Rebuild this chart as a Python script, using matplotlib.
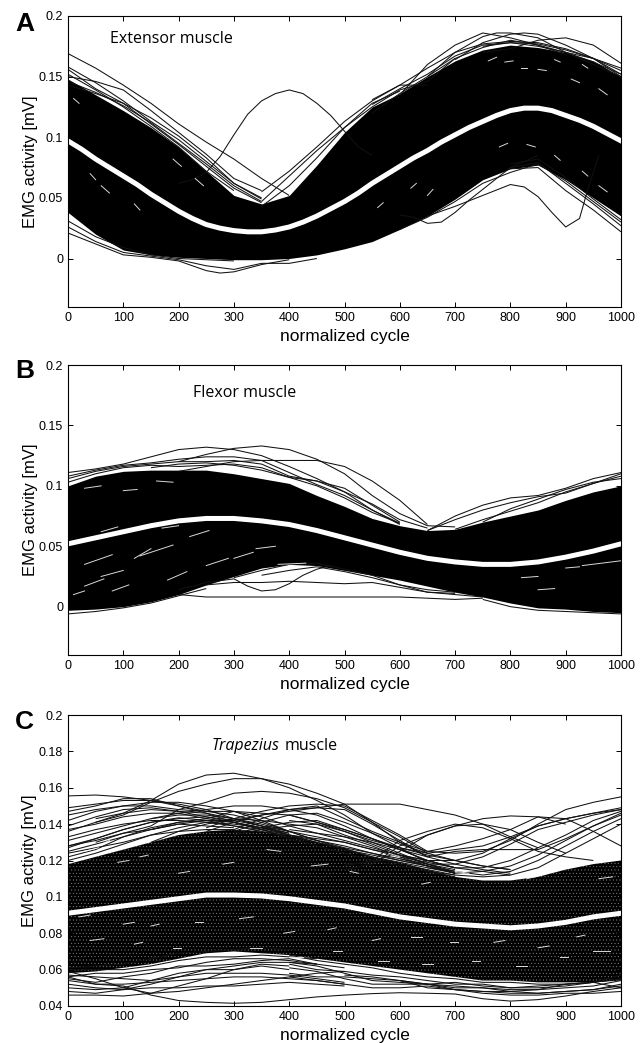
import matplotlib
matplotlib.use('Agg')
import matplotlib.pyplot as plt

plt.rcParams['font.family'] = ['Liberation Sans', 'DejaVu Sans']
plt.rcParams['hatch.linewidth'] = 0.3

W, H = 643, 1043

# common x grid of the band edges, finer grid for the mean curves
cycle = list(range(0, 1001, 50))
fine = list(range(0, 1001, 25))

# Panel A: mean curve, edges of the solid band, single curves outside it
a_mean = [.097, .090, .082, .075, .068, .061, .053, .046, .039, .033, .028, .025, .023,
          .022, .022, .0235, .026, .030, .035, .041, .047, .054, .062, .069, .076, .083,
          .089, .096, .102, .108, .113, .118, .122, .124, .124, .122, .118, .114, .109,
          .103, .097]
a_high = [.148, .135, .122, .108, .092, .072, .052, .045, .052, .077, .104,
          .125, .136, .150, .163, .172, .176, .174, .170, .163, .150]
a_low = [.038, .020, .007, .003, .001, .000, -.001, -.001, .000, .003, .008,
         .014, .024, .035, .049, .065, .074, .077, .065, .050, .035]
a_traces = [
    ([0, 50, 100, 150, 200, 250, 300, 350, 400], [.169, .157, .143, .128, .111, .096, .082, .066, .052]),
    ([0, 50, 100, 150, 200, 250, 300, 350], [.158, .145, .130, .113, .098, .080, .062, .050]),
    ([0, 50, 100, 150, 200, 250, 300, 350], [.156, .140, .128, .111, .094, .076, .058, .046]),
    ([0, 50, 100, 150, 200, 250, 300, 350], [.150, .146, .139, .122, .104, .086, .066, .056]),
    ([0, 50, 100, 150, 200, 250, 300], [.152, .139, .125, .109, .092, .072, .056]),
    (cycle[:8], [.146, .137, .126, .112, .095, .078, .060, .047]),
    (cycle[:8], [.143, .136, .128, .116, .101, .083, .062, .049]),
    ([200, 225, 250, 275, 300, 325, 350, 375, 400, 425, 450, 475, 500, 525, 550],
     [.062, .065, .071, .084, .102, .119, .130, .136, .139, .136, .128, .118, .105, .092, .085]),
    ([350, 400, 450, 500, 550, 600, 650, 700],
     [.047, .068, .089, .108, .125, .139, .146, .165]),
    ([350, 400, 450, 500, 550, 600, 650],
     [.055, .072, .092, .113, .130, .143, .143]),
    ([350, 400, 450, 500, 550, 600],
     [.043, .060, .083, .108, .128, .138]),
    ([600, 650, 700, 750, 800, 850, 900],
     [.135, .160, .176, .186, .182, .176, .168]),
    ([650, 700, 750, 775, 800, 850, 900, 950, 1000],
     [.150, .170, .183, .186, .186, .182, .170, .165, .152]),
    ([700, 750, 800, 825, 850, 900, 950, 1000],
     [.164, .178, .185, .186, .185, .176, .165, .150]),
    ([750, 800, 850, 900, 950, 1000],
     [.170, .173, .180, .182, .176, .161]),
    ([750, 800, 850, 900, 950, 1000],
     [.175, .178, .177, .172, .165, .157]),
    (cycle[11:], [.127, .140, .152, .167, .176, .178, .175, .170, .160, .150]),
    (cycle[11:], [.131, .143, .157, .170, .177, .179, .178, .173, .165, .155]),
    (cycle[11:], [.120, .136, .150, .165, .174, .180, .176, .170, .162, .152]),
    ([600, 625, 650, 675, 700, 725, 750, 800, 850],
     [.036, .034, .029, .030, .038, .048, .057, .075, .085]),
    ([650, 700, 750, 800, 825, 850, 875, 900, 925, 940, 960],
     [.035, .043, .052, .061, .059, .051, .038, .026, .033, .057, .085]),
    ([0, 50, 100, 150, 200, 250, 275, 300, 350, 400],
     [.021, .012, .003, .001, -.002, -.010, -.012, -.011, -.005, -.001]),
    ([0, 50, 100, 150, 200, 250, 300, 350, 400, 450],
     [.026, .014, .005, .002, -.001, -.006, -.009, -.004, -.004, .000]),
    ([0, 50, 100, 150, 200, 250, 300],
     [.031, .018, .009, .003, .000, -.001, -.002]),
    (cycle[12:], [.024, .034, .047, .062, .071, .078, .064, .047, .030]),
    ([800, 850, 900, 950, 1000], [.074, .075, .056, .040, .022]),
    ([800, 850, 900, 950, 1000], [.075, .079, .062, .045, .027]),
    ([800, 850, 900, 950, 1000], [.078, .082, .067, .049, .032]),
]
a_gap_x0 = [10, 40, 60, 120, 760, 790, 820, 850, 880, 910, 930, 960, 780, 830, 880, 930, 960, 190, 230, 560, 620, 650]
a_gap_x1 = [20, 50, 75, 130, 775, 805, 830, 865, 890, 925, 940, 975, 795, 845, 890, 940, 975, 205, 245, 570, 630, 660]
a_gap_y0 = [.132, .070, .060, .045, .163, .162, .157, .156, .164, .148, .160, .140, .092, .094, .085, .072, .060, .082, .066, .042, .058, .052]
a_gap_y1 = [.128, .065, .054, .040, .166, .163, .157, .155, .162, .145, .157, .135, .095, .092, .081, .068, .055, .076, .060, .046, .062, .057]

# Panel B
b_mean = [.052, .057, .062, .067, .071, .073, .073, .071, .068, .063, .057,
          .051, .045, .040, .037, .035, .035, .037, .041, .046, .052]
b_high = [.100, .108, .112, .113, .113, .113, .110, .106, .102, .092, .083,
          .073, .067, .063, .064, .070, .075, .080, .088, .095, .100]
b_low = [-.003, -.002, .000, .004, .010, .018, .025, .032, .035, .034, .030,
         .026, .022, .017, .012, .008, .003, -.001, -.002, -.004, -.005]
b_traces = [
    (cycle[:14], [.111, .114, .118, .124, .130, .132, .130, .125, .116, .106, .095, .085, .072, .065]),
    (cycle[4:15], [.120, .126, .131, .133, .130, .122, .110, .092, .077, .067, .066]),
    (cycle[:13], [.108, .113, .117, .119, .122, .124, .124, .121, .111, .101, .092, .080, .068]),
    (cycle[:13], [.106, .112, .116, .118, .120, .120, .121, .118, .108, .104, .098, .084, .070]),
    (cycle[:13], [.103, .110, .115, .117, .116, .117, .118, .115, .107, .100, .090, .078, .069]),
    (cycle[4:14], [.112, .116, .120, .121, .121, .121, .116, .104, .088, .068]),
    (cycle[3:13], [.115, .118, .119, .117, .113, .107, .104, .095, .080, .069]),
    (cycle[4:16], [.010, .008, .008, .008, .008, .008, .008, .008, .008, .007, .006, .007]),
    ([200, 250, 300, 325, 350, 375, 400, 425, 450, 475],
     [.014, .020, .023, .017, .013, .014, .019, .026, .031, .034]),
    ([250, 300, 350, 400, 450, 500, 550, 600, 650, 700],
     [.018, .020, .020, .021, .020, .019, .020, .016, .012, .011]),
    ([300, 350, 400, 450, 500, 550, 600, 650, 700, 750],
     [.024, .030, .035, .036, .031, .026, .018, .012, .010, .008]),
    ([350, 400, 450, 500, 550, 600, 650, 700],
     [.026, .030, .033, .029, .024, .018, .014, .012]),
    (cycle[13:], [.063, .075, .084, .090, .092, .098, .106, .111]),
    (cycle[13:], [.063, .072, .080, .086, .091, .094, .102, .110]),
    (cycle[14:], [.064, .072, .079, .086, .095, .102, .108]),
    (cycle[15:], [.070, .081, .089, .097, .103, .106]),
    (cycle[:6], [-.006, -.004, -.001, .003, .009, .015]),
    (cycle[15:], [.006, .000, -.003, -.004, -.005, -.006]),
]
b_gap_x0 = [30, 60, 120, 130, 220, 30, 80, 180, 250, 60, 170, 300, 340, 820, 900, 850, 930, 10, 380, 30, 100, 160]
b_gap_x1 = [80, 100, 150, 190, 255, 65, 110, 215, 290, 90, 200, 335, 375, 850, 925, 880, 1000, 30, 430, 60, 125, 190]
b_gap_y0 = [.035, .025, .040, .042, .058, .017, .013, .022, .034, .062, .065, .040, .048, .024, .032, .014, .034, .010, .035, .098, .096, .104]
b_gap_y1 = [.043, .030, .048, .051, .063, .023, .018, .029, .040, .066, .067, .045, .050, .025, .033, .015, .038, .013, .036, .100, .097, .103]

# Panel C
c_mean = [.091, .093, .095, .097, .099, .101, .101, .1005, .099, .097, .095,
          .092, .089, .087, .085, .084, .083, .084, .086, .089, .091]
c_high = [.118, .122, .126, .130, .134, .136, .137, .136, .134, .130, .127,
          .122, .119, .115, .111, .109, .109, .111, .115, .118, .120]
c_low = [.058, .059, .061, .063, .066, .069, .070, .069, .068, .066, .064,
         .062, .060, .058, .056, .054, .054, .053, .053, .053, .054]
c_traces = [
    (cycle[1:14], [.143, .146, .153, .162, .167, .168, .165, .160, .153, .145, .135, .127, .119]),
    (cycle[1:14], [.141, .145, .152, .158, .162, .165, .165, .162, .157, .151, .141, .130, .122]),
    (cycle[1:14], [.130, .135, .139, .148, .152, .157, .158, .157, .154, .149, .141, .133, .124]),
    (cycle[:18], [.128, .132, .137, .141, .1435, .142, .142, .145, .147, .149, .151, .151, .151, .148, .145, .140, .133, .127]),
    (cycle[:15], [.1555, .156, .155, .153, .150, .147, .145, .141, .136, .131, .126, .122, .118, .115, .112]),
    (cycle[:15], [.149, .151, .153, .153, .151, .148, .143, .139, .134, .130, .126, .122, .119, .116, .113]),
    (cycle[:15], [.147, .150, .154, .154, .150, .146, .141, .137, .132, .128, .124, .120, .117, .114, .111]),
    (cycle[:15], [.145, .148, .150, .152, .152, .150, .147, .142, .136, .131, .127, .124, .121, .118, .115]),
    (cycle[:15], [.142, .147, .150, .150, .148, .147, .147, .144, .139, .135, .131, .127, .123, .118, .114]),
    (cycle[:15], [.139, .144, .148, .149, .147, .146, .143, .140, .136, .133, .130, .126, .122, .119, .116]),
    (cycle[:15], [.137, .140, .144, .146, .146, .143, .141, .137, .134, .131, .128, .124, .120, .117, .113]),
    (cycle[:15], [.133, .137, .140, .142, .142, .141, .139, .136, .133, .130, .126, .123, .120, .117, .113]),
    (cycle[:9], [.136, .141, .146, .148, .147, .144, .141, .138, .134]),
    (cycle[:9], [.131, .135, .139, .143, .145, .145, .143, .139, .135]),
    (cycle[:9], [.127, .132, .137, .141, .143, .144, .142, .139, .136]),
    (cycle[:9], [.122, .126, .133, .137, .140, .142, .141, .138, .135]),
    (cycle[:9], [.120, .124, .129, .134, .138, .141, .140, .138, .134]),
    (cycle[:9], [.125, .129, .133, .138, .141, .142, .139, .137, .133]),
    (cycle[:7], [.128, .131, .135, .137, .140, .139, .138]),
    (cycle[:7], [.124, .127, .130, .134, .136, .137, .137]),
    (cycle[3:15], [.143, .146, .148, .150, .150, .148, .145, .139, .132, .126, .120, .116]),
    (cycle[3:15], [.137, .141, .143, .147, .146, .145, .141, .136, .130, .124, .118, .113]),
    (cycle[3:15], [.130, .136, .140, .143, .142, .140, .138, .133, .128, .122, .117, .114]),
    (cycle[8:17], [.142, .140, .136, .131, .127, .123, .120, .117, .115]),
    (cycle[8:17], [.137, .135, .133, .130, .126, .122, .118, .115, .113]),
    (cycle[8:17], [.145, .141, .137, .132, .127, .124, .120, .117, .115]),
    (cycle[8:17], [.134, .132, .130, .126, .123, .120, .116, .114, .112]),
    (cycle[10:19], [.118, .119, .125, .134, .139, .143, .1445, .144, .140]),
    (cycle[10:20], [.117, .120, .131, .136, .140, .138, .132, .125, .122, .120]),
    (cycle[10:19], [.115, .118, .128, .134, .139, .140, .137, .130, .124]),
    (cycle[5:21], [.138, .143, .147, .150, .151, .150, .142, .134, .125, .128, .132, .137, .144, .143, .136, .128]),
    (cycle[5:21], [.136, .141, .145, .148, .149, .148, .140, .131, .122, .125, .126, .126, .126, .132, .139, .145]),
    (cycle[6:21], [.137, .143, .148, .150, .143, .136, .130, .125, .124, .125, .131, .140, .148, .152, .155]),
    (cycle[6:21], [.136, .141, .145, .146, .141, .135, .129, .124, .126, .128, .133, .139, .143, .146, .149]),
    (cycle[6:21], [.135, .138, .141, .142, .137, .132, .126, .120, .120, .124, .132, .139, .143, .146, .148]),
    (cycle[6:21], [.134, .137, .139, .140, .134, .129, .123, .118, .118, .122, .129, .137, .141, .145, .148]),
    (cycle[12:21], [.123, .120, .116, .116, .120, .127, .134, .142, .147]),
    (cycle[12:21], [.121, .117, .113, .114, .117, .123, .131, .139, .146]),
    (cycle[13:21], [.116, .114, .112, .114, .120, .128, .136, .143]),
    (cycle[13:21], [.114, .112, .111, .112, .116, .124, .132, .140]),
    (cycle[:21], [.056, .052, .051, .046, .043, .042, .0415, .042, .0435, .045, .046,
                  .0468, .0473, .047, .0466, .044, .0427, .0435, .0455, .048, .050]),
    (cycle[:9], [.046, .046, .0455, .047, .051, .055, .060, .062, .060]),
    (cycle[:9], [.048, .047, .049, .052, .056, .060, .060, .063, .062]),
    (cycle[:11], [.050, .049, .050, .054, .058, .060, .062, .064, .064, .063, .061]),
    (cycle[:11], [.052, .050, .049, .050, .050, .051, .051, .052, .053, .052, .051]),
    (cycle[:11], [.054, .052, .052, .053, .054, .055, .056, .056, .055, .054, .052]),
    (cycle[:11], [.057, .056, .055, .054, .056, .058, .058, .058, .057, .055, .053]),
    (cycle[:11], [.059, .055, .050, .047, .048, .050, .052, .054, .056, .058, .059]),
    (cycle[:10], [.061, .062, .063, .066, .069, .070, .071, .072, .071, .069]),
    (cycle[:10], [.060, .060, .060, .062, .065, .067, .067, .068, .067, .066]),
    (cycle[:10], [.056, .058, .058, .060, .061, .064, .066, .066, .065, .063]),
    (cycle[:10], [.055, .053, .056, .058, .062, .062, .063, .065, .066, .063]),
    (cycle[8:21], [.056, .054, .052, .050, .050, .051, .049, .048, .048, .049, .052, .053, .050]),
    (cycle[8:21], [.061, .059, .055, .052, .052, .052, .051, .050, .048, .047, .048, .049, .051]),
    (cycle[8:21], [.064, .062, .058, .054, .053, .052, .053, .051, .050, .050, .051, .053, .055]),
    (cycle[8:21], [.068, .065, .063, .061, .058, .056, .055, .053, .053, .052, .052, .053, .055]),
    (cycle[8:21], [.063, .060, .059, .057, .056, .054, .052, .052, .050, .051, .052, .053, .057]),
    (cycle[8:21], [.058, .056, .056, .055, .054, .052, .050, .050, .049, .049, .050, .051, .054]),
    (cycle[10:21], [.057, .056, .054, .050, .049, .048, .047, .047, .048, .049, .052]),
    (cycle[12:21], [.054, .052, .049, .047, .046, .046, .047, .047, .048]),
]
c_gap_x0 = [30, 60, 90, 130, 200, 280, 360, 440, 510, 580, 640, 700, 760, 830, 900, 960,
            20, 100, 150, 230, 310, 390, 470, 550, 620, 690, 770, 850, 920,
            40, 120, 190, 260, 330, 400, 480, 560, 640, 730, 810, 890, 950]
c_gap_x1 = [55, 75, 110, 145, 220, 300, 385, 470, 525, 600, 655, 725, 775, 845, 920, 985,
            40, 120, 165, 245, 335, 410, 485, 565, 640, 705, 790, 870, 935,
            65, 135, 205, 275, 350, 425, 495, 580, 660, 745, 830, 905, 980]
c_gap_y0 = [.125, .129, .119, .122, .113, .118, .126, .117, .114, .124, .107, .114, .120, .110, .117, .110,
            .089, .085, .084, .086, .088, .080, .082, .076, .078, .075, .075, .072, .078,
            .076, .074, .072, .069, .072, .067, .070, .065, .063, .065, .062, .067, .070]
c_gap_y1 = [.127, .131, .120, .123, .114, .119, .125, .118, .113, .122, .108, .113, .121, .111, .118, .111,
            .090, .086, .085, .086, .089, .081, .083, .077, .078, .075, .076, .073, .079,
            .077, .075, .072, .069, .072, .067, .070, .065, .063, .065, .062, .067, .070]


def panel(box, letter, letter_y, note, note_y, mean, mean_x, high, low, traces, gaps,
          ylim, yticks, yticklabels, hatch=None):
    l, t, r, b = box
    ax = fig.add_axes([l / W, 1 - b / H, (r - l) / W, (b - t) / H])
    ax.fill_between(cycle, low, high, facecolor='black', edgecolor='#8a8a8a', hatch=hatch, lw=0)
    for xs, ys in traces:
        ax.plot(xs, ys, color='#111111', lw=0.75, solid_capstyle='butt')
    for x0, x1, y0, y1 in zip(*gaps):
        ax.plot([x0, x1], [y0, y1], color='white', lw=0.7, alpha=0.85)
    ax.plot(mean_x, mean, color='white', lw=3.6)
    ax.set_xlim(0, 1000)
    ax.set_ylim(*ylim)
    ax.set_xticks(range(0, 1001, 100))
    ax.set_yticks(yticks)
    ax.set_yticklabels(yticklabels)
    ax.tick_params(direction='in', top=True, right=True, length=3.5, width=0.7,
                   labelsize=9, pad=3.5)
    for s in ax.spines.values():
        s.set_linewidth(0.8)
    ax.set_xlabel('normalized cycle', fontsize=12.5, labelpad=3.5)
    ax.set_ylabel('EMG activity [mV]', fontsize=12, labelpad=1)
    fig.text(15 / W, 1 - letter_y / H, letter, fontsize=19, fontweight='bold',
             va='center', ha='left')
    for txt, x, style in note:
        fig.text(x / W, 1 - note_y / H, txt, fontsize=11.5, style=style,
                 family=['Open Sans', 'DejaVu Sans'], va='center', ha='left')
    return ax


fig = plt.figure(figsize=(W / 100, H / 100), dpi=100)

a_ticks = [0, .05, .1, .15, .2]
a_labels = ['0', '0.05', '0.1', '0.15', '0.2']
c_ticks = [.04, .06, .08, .1, .12, .14, .16, .18, .2]
c_labels = ['0.04', '0.06', '0.08', '0.1', '0.12', '0.14', '0.16', '0.18', '0.2']

panel((68, 16, 621, 307), 'A', 24, [('Extensor muscle', 110, 'normal')], 39,
      a_mean, fine, a_high, a_low, a_traces, (a_gap_x0, a_gap_x1, a_gap_y0, a_gap_y1),
      (-.04, .2), a_ticks, a_labels)
panel((68, 365, 621, 655), 'B', 371, [('Flexor muscle', 193, 'normal')], 393,
      b_mean, cycle, b_high, b_low, b_traces, (b_gap_x0, b_gap_x1, b_gap_y0, b_gap_y1),
      (-.04, .2), a_ticks, a_labels)
panel((68, 715, 621, 1006), 'C', 722, [('Trapezius', 212, 'italic'), ('muscle', 285, 'normal')], 746,
      c_mean, cycle, c_high, c_low, c_traces, (c_gap_x0, c_gap_x1, c_gap_y0, c_gap_y1),
      (.04, .2), c_ticks, c_labels, hatch='.....')

fig.savefig('out.png', dpi=100)
